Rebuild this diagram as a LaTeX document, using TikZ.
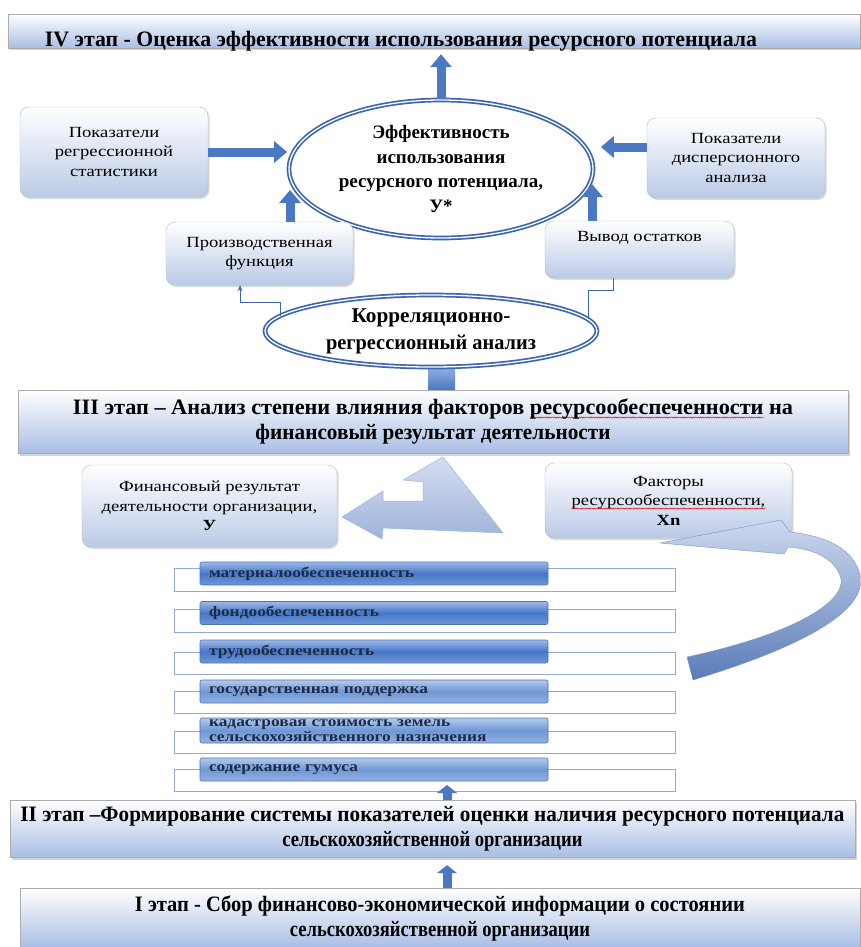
\documentclass[tikz,border=0pt]{standalone}
\usepackage{graphicx}
\usepackage{fontspec}
\setmainfont{Liberation Serif}
\newfontfamily\widefont[FakeStretch=1.2]{Liberation Serif}
\usetikzlibrary{shapes.geometric,arrows.meta,shadows,decorations.pathmorphing,calc}
\pgfdeclarelayer{bglayer}
\pgfsetlayers{bglayer,main}
\definecolor{arrblue}{HTML}{4A78C2}
\definecolor{ellblue}{HTML}{3B65B0}
\definecolor{stageblue}{HTML}{A9BEE4}
\definecolor{boxblue}{HTML}{BACAE6}
\definecolor{loutc}{HTML}{93A9CF}
\definecolor{lbtop}{HTML}{9DBAE8}
\definecolor{lbmid}{HTML}{4577C9}
\definecolor{lbbot}{HTML}{6E96D6}
\definecolor{lbtopl}{HTML}{B3CAEC}
\definecolor{lbmidl}{HTML}{6F97D7}
\definecolor{lbbotl}{HTML}{93B1E0}
\definecolor{lbedge}{HTML}{4C74B4}
\definecolor{navy}{HTML}{1E2B45}
\definecolor{bentfill}{HTML}{C3D0EA}
\definecolor{bentdark}{HTML}{9FB3DB}
\definecolor{curvetop}{HTML}{CDD8EE}
\definecolor{curvebot}{HTML}{5B7CB8}
\newcommand\fitw[2]{\resizebox{#1pt}{\height}{#2}}
\newsavebox\wavebox
\newlength\wavelen
\newcommand\wavy[1]{\sbox\wavebox{#1}\setlength\wavelen{\wd\wavebox}\rlap{\tikz[baseline=0pt,sharp corners]{\path (0pt,0pt); \draw[overlay,sharp corners,solid,red!85!black,line width=0.45pt,decorate,decoration={snake,amplitude=0.6pt,segment length=2.4pt}] (0pt,-3pt) -- (\wavelen,-3pt);}}\usebox\wavebox}
\begin{document}
\begin{tikzpicture}[x=1pt,y=-1pt,
 stage/.style={draw=gray!65, top color=white, bottom color=stageblue, drop shadow={shadow xshift=1.5pt,shadow yshift=-2.5pt,opacity=0.35}, align=center, inner sep=0pt, font=\fontsize{22}{25}\selectfont\bfseries},
 stagetxt/.style={font=\fontsize{22}{25}\selectfont\bfseries, align=center, inner sep=0pt},
 rbox/.style={draw=gray!55, rounded corners=9pt, top color=white, bottom color=boxblue, drop shadow={shadow xshift=1.5pt,shadow yshift=-2pt,opacity=0.3}, align=center, font=\widefont\fontsize{15.5}{19.5}\selectfont, inner sep=2pt},
 ell/.style={ellipse, draw=ellblue, double=white, double distance=1.3pt, line width=1.7pt, fill=white, inner sep=0pt, align=center},
 bigarr/.style={draw=arrblue, line width=9pt, -{Triangle[length=13pt,width=21pt]}},
 sarr/.style={draw=arrblue, line width=9pt, -{Triangle[length=8pt,width=20pt]}},
 thinc/.style={draw=ellblue, line width=0.8pt},
 lout/.style={draw=loutc, line width=0.8pt},
 lbar/.style={rectangle, draw=lbedge, line width=0.6pt, rounded corners=2pt, top color=lbtop, bottom color=lbbot, middle color=lbmid, minimum height=23pt, text width=330pt, inner xsep=9pt, inner ysep=0pt, align=left, text=navy, font=\widefont\bfseries\fontsize{14.5}{14.5}\selectfont},
 lbarl/.style={lbar, top color=lbtopl, bottom color=lbbotl, middle color=lbmidl},
]
\useasboundingbox (0,0) rectangle (860,947);

% ---------- Stage IV ----------
\node[stage, minimum width=852pt, minimum height=34pt] (s4) at (434,31) {};
\node[stagetxt] (t4) at (401,41) {\fitw{712}{IV этап - Оценка эффективности использования ресурсного потенциала}};

% ---------- central ellipse and boxes ----------
\node[ell, minimum width=304pt, minimum height=138pt, font=\bfseries\fontsize{19}{24.5}\selectfont] (eff) at (441,169) {Эффективность\\использования\\ресурсного потенциала,\\У*};
\node[rbox, minimum width=188pt, minimum height=90pt] (reg) at (114,152) {Показатели\\регрессионной\\статистики};
\node[rbox, minimum width=178pt, minimum height=80pt] (disp) at (736,158) {Показатели\\дисперсионного\\анализа};
\node[rbox, minimum width=187pt, minimum height=63pt] (prod) at (259.5,253.5) {Производственная\\функция};
\node[rbox, minimum width=189pt, minimum height=57pt] (vyv) at (639.5,249.5) {Вывод остатков\\ \strut};

\draw[bigarr, shorten >=1pt] (reg.east) -- (reg.east -| eff.west);
\draw[bigarr, shorten >=7pt] ([yshift=11pt]disp.west) -- ([yshift=11pt]disp.west -| eff.east);
\coordinate (pe) at (290,190);
\draw[bigarr] (prod.north -| pe) -- (pe);
\coordinate (ve) at (592,184);
\draw[bigarr] (vyv.north -| ve) -- (ve);
\draw[bigarr, shorten >=6pt] (eff.north) -- (eff.north |- s4.south);

% ---------- correlation ellipse ----------
\node[ell, minimum width=332pt, minimum height=72pt, font=\bfseries\fontsize{21}{27}\selectfont] (kor) at (431,331) {\fitw{159}{Корреляционно-}\\\fitw{210}{регрессионный анализ}};
\coordinate (k1) at (280,316);
\coordinate (k2) at (240,302);
\draw[thinc, -{Stealth[length=6pt,width=5pt]}] (k1) |- (k2) -- (k2 |- prod.south);
\coordinate (k3) at (588,319);
\coordinate (k4) at (613,290);
\draw[thinc] (k3) |- (k4) -- (k4 |- vyv.south);

% ---------- Stage III ----------
\node[stage, minimum width=830pt, minimum height=63pt] (s3) at (433,421.5) {\fitw{720}{III этап – Анализ степени влияния факторов \wavy{ресурсообеспеченности} на}\\\fitw{355}{финансовый результат деятельности}};
\begin{pgfonlayer}{bglayer}
\path[top color=lbtop, bottom color=arrblue] ($(kor.south)+(-3,-4)$) rectangle ($(kor.south |- s3.north)+(24,0)$);
\end{pgfonlayer}

% ---------- result and factor boxes ----------
\node[rbox, minimum width=255pt, minimum height=82pt] (fin) at (209.5,506) {Финансовый результат\\деятельности организации,\\\textbf{У}};
\node[rbox, minimum width=247pt, minimum height=75pt] (fak) at (668.5,500.5) {Факторы\\\wavy{ресурсообеспеченности,}\\\textbf{Xn}};

% bent arrow from stage III to the result box
\path[draw=bentdark, line width=0.5pt, top color=bentfill!70!white, bottom color=bentdark, line join=miter]
 (342,517) -- (383,491) -- (383,501) -- (423,501) -- (423,482) -- (403,480) -- (443,457)
 -- (503,533) -- (383,528) -- (382,539) -- cycle;

% ---------- factor list ----------
\foreach \yt/\yb in {568/591, 609/632, 652/674, 691/713, 731/753, 769/791}
  \draw[lout] (174,\yt) rectangle (675,\yb);
\node[lbar] (m1) at (374,573.5) {материалообеспеченность};
\node[lbar] (m2) at (374,613) {фондообеспеченность};
\node[lbar] (m3) at (374,651.5) {трудообеспеченность};
\node[lbarl] (m4) at (374,691.5) {государственная поддержка};
\node[lbarl, minimum height=25pt] (m5) at (374,730.5) {кадастровая стоимость земель\\сельскохозяйственного назначения};
\node[lbarl] (m6) at (374,769.5) {содержание гумуса};

% curved arrow from the list to the factor box
\path[draw=curvebot!80, line width=0.4pt, top color=curvetop, bottom color=curvebot]
 (693,680) .. controls (792,650) and (874,612) .. (859,571)
 .. controls (850,547) and (825,536) .. (790,532)
 -- (781,520) -- (660,543) -- (784,554) -- (788,547)
 .. controls (817,549) and (837,561) .. (841,579)
 .. controls (845,603) and (790,635) .. (687,657) -- cycle;

% ---------- Stage II and I ----------
\node[stage, minimum width=845pt, minimum height=57pt] (s2) at (432.5,828.5) {\fitw{824}{II этап –Формирование системы показателей оценки наличия ресурсного потенциала}\\\fitw{300}{сельскохозяйственной организации}};
\node[stage, minimum width=840pt, minimum height=60pt] (s1) at (440,918) {\fitw{610}{I этап - Сбор финансово-экономической информации о состоянии}\\\fitw{300}{сельскохозяйственной организации}};

\coordinate (la) at (447,785);
\draw[sarr] (la |- s2.north) -- (la);
\draw[sarr, shorten >=8pt] (la |- s1.north) -- (la |- s2.south);
\end{tikzpicture}
\end{document}
